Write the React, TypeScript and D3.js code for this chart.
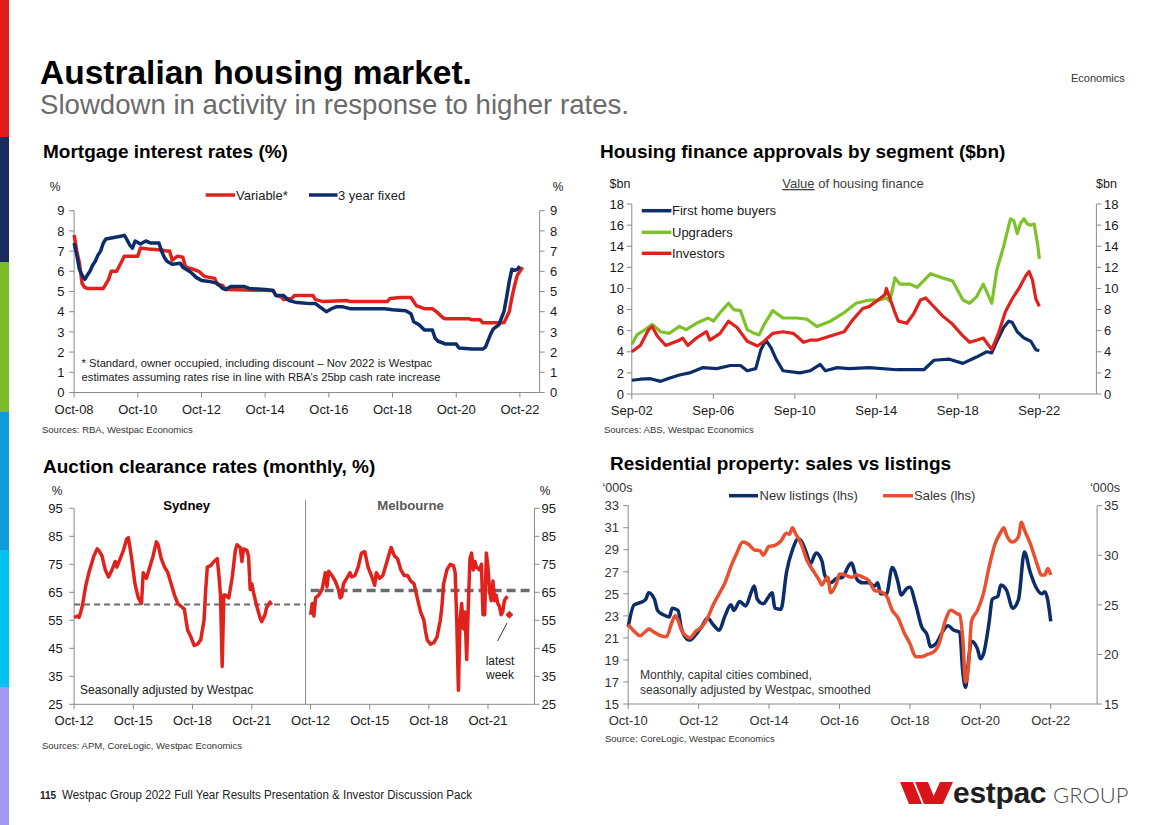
import React from "react";
import * as d3 from "d3";

type Pt = [string, number];

const FONT = "'Liberation Sans', Arial, Helvetica, sans-serif";
const AXIS = "#8a8a8a";
const INK = "#1a1a1a";
const RED = "#E1221C";
const NAVY = "#0B2D69";
const GREEN = "#7DC22B";
const ORANGE = "#E9502E";

const MONTHS = ["Jan", "Feb", "Mar", "Apr", "May", "Jun", "Jul", "Aug", "Sep", "Oct", "Nov", "Dec"];
const ym = (s: string) => {
  const [y, m] = s.split("-").map(Number);
  return new Date(y, m - 1, 1);
};
const tickDate = (s: string) => {
  const [mon, yy] = s.split("-");
  return new Date(2000 + Number(yy), MONTHS.indexOf(mon), 1);
};

// ---------- Chart 1: mortgage interest rates ----------
const mortgageXTicks = ["Oct-08", "Oct-10", "Oct-12", "Oct-14", "Oct-16", "Oct-18", "Oct-20", "Oct-22"];
const mortgageYTicks = [0, 1, 2, 3, 4, 5, 6, 7, 8, 9];
const variableRate: Pt[] = [
  ["2008-10", 7.8], ["2008-11", 7.0], ["2008-12", 6.4], ["2009-01", 5.4], ["2009-02", 5.2], ["2009-03", 5.15],
  ["2009-09", 5.15], ["2009-11", 5.6], ["2009-12", 6.0], ["2010-02", 6.0], ["2010-04", 6.5], ["2010-05", 6.75],
  ["2010-10", 6.75], ["2010-11", 7.15], ["2011-02", 7.1], ["2011-07", 7.05], ["2011-09", 7.0], ["2011-10", 7.0],
  ["2011-11", 6.55], ["2012-01", 6.75], ["2012-03", 6.7], ["2012-04", 6.2], ["2012-07", 6.1], ["2012-09", 6.0],
  ["2012-11", 5.75], ["2013-01", 5.7], ["2013-03", 5.65], ["2013-04", 5.35], ["2013-06", 5.3], ["2013-07", 5.1],
  ["2015-01", 5.05], ["2015-02", 4.8], ["2015-04", 4.75], ["2015-05", 4.6], ["2015-08", 4.65], ["2015-09", 4.8],
  ["2016-04", 4.8], ["2016-05", 4.6], ["2016-08", 4.5], ["2017-05", 4.55], ["2017-06", 4.5], ["2018-08", 4.5],
  ["2018-09", 4.65], ["2019-01", 4.7], ["2019-05", 4.7], ["2019-07", 4.3], ["2019-10", 4.15], ["2020-01", 4.15],
  ["2020-03", 3.95], ["2020-05", 3.7], ["2020-06", 3.65], ["2021-03", 3.65], ["2021-04", 3.6], ["2021-07", 3.6],
  ["2021-08", 3.45], ["2022-04", 3.45], ["2022-06", 4.0], ["2022-07", 4.7], ["2022-08", 5.3], ["2022-09", 5.8],
  ["2022-10", 6.0], ["2022-11", 6.2],
];
const fixedRate: Pt[] = [
  ["2008-10", 7.4], ["2008-11", 6.8], ["2008-12", 6.1], ["2009-01", 5.8], ["2009-02", 5.6], ["2009-03", 5.8],
  ["2009-04", 6.0], ["2009-05", 6.3], ["2009-06", 6.5], ["2009-07", 6.8], ["2009-08", 7.0], ["2009-09", 7.4],
  ["2009-10", 7.6], ["2009-12", 7.65], ["2010-02", 7.7], ["2010-04", 7.75], ["2010-05", 7.78], ["2010-06", 7.55],
  ["2010-07", 7.3], ["2010-08", 7.15], ["2010-09", 7.5], ["2010-11", 7.35], ["2011-01", 7.5], ["2011-03", 7.4],
  ["2011-06", 7.4], ["2011-07", 7.0], ["2011-08", 6.7], ["2011-09", 6.5], ["2011-11", 6.35], ["2012-02", 6.4],
  ["2012-03", 6.2], ["2012-06", 5.95], ["2012-08", 5.7], ["2012-10", 5.55], ["2013-01", 5.5], ["2013-04", 5.4],
  ["2013-06", 5.15], ["2013-07", 5.1], ["2013-09", 5.25], ["2014-02", 5.25], ["2014-04", 5.15], ["2014-10", 5.1],
  ["2015-01", 5.05], ["2015-02", 4.8], ["2015-05", 4.8], ["2015-07", 4.55], ["2015-10", 4.45], ["2016-03", 4.4],
  ["2016-05", 4.4], ["2016-07", 4.2], ["2016-09", 4.0], ["2016-11", 4.15], ["2017-01", 4.25], ["2017-03", 4.25],
  ["2017-06", 4.15], ["2018-07", 4.15], ["2018-10", 4.1], ["2019-03", 4.05], ["2019-05", 3.9], ["2019-06", 3.5],
  ["2019-08", 3.35], ["2019-10", 3.1], ["2020-01", 3.1], ["2020-02", 2.7], ["2020-03", 2.55], ["2020-05", 2.45],
  ["2020-06", 2.4], ["2020-10", 2.4], ["2020-11", 2.2], ["2021-04", 2.15], ["2021-08", 2.15], ["2021-09", 2.25],
  ["2021-11", 2.9], ["2021-12", 3.15], ["2022-02", 3.35], ["2022-04", 4.0], ["2022-05", 4.7], ["2022-06", 5.5],
  ["2022-07", 6.1], ["2022-08", 6.05], ["2022-09", 6.1], ["2022-10", 6.25],
];

// ---------- Chart 2: housing finance approvals ----------
const financeXTicks = ["Sep-02", "Sep-06", "Sep-10", "Sep-14", "Sep-18", "Sep-22"];
const financeYTicks = [0, 2, 4, 6, 8, 10, 12, 14, 16, 18];
const firstHomeBuyers: Pt[] = [
  ["2002-09", 1.3], ["2003-02", 1.4], ["2003-08", 1.45], ["2004-02", 1.2], ["2004-07", 1.5], ["2005-01", 1.8],
  ["2005-07", 2.0], ["2006-03", 2.5], ["2006-11", 2.4], ["2007-07", 2.7], ["2008-01", 2.7], ["2008-05", 2.2],
  ["2008-10", 2.4], ["2009-01", 4.2], ["2009-04", 5.1], ["2009-07", 4.4], ["2009-10", 3.3], ["2010-02", 2.2],
  ["2010-12", 2.0], ["2011-06", 2.2], ["2011-12", 2.8], ["2012-03", 2.2], ["2012-10", 2.5], ["2013-05", 2.4],
  ["2014-05", 2.5], ["2015-09", 2.3], ["2017-01", 2.3], ["2017-07", 3.2], ["2018-04", 3.3], ["2018-12", 2.9],
  ["2019-08", 3.5], ["2020-02", 4.0], ["2020-05", 3.9], ["2020-08", 5.0], ["2020-12", 6.3], ["2021-03", 6.9],
  ["2021-05", 6.8], ["2021-08", 5.9], ["2021-12", 5.3], ["2022-04", 5.0], ["2022-07", 4.2], ["2022-09", 4.1],
];
const upgraders: Pt[] = [
  ["2002-09", 4.7], ["2002-12", 5.6], ["2003-04", 6.0], ["2003-09", 6.6], ["2004-02", 5.9], ["2004-07", 5.75],
  ["2005-01", 6.4], ["2005-05", 6.1], ["2005-11", 6.7], ["2006-06", 7.2], ["2006-09", 6.9], ["2007-02", 7.9],
  ["2007-06", 8.6], ["2007-09", 8.0], ["2008-01", 7.9], ["2008-05", 6.1], ["2008-09", 5.75], ["2008-12", 5.6],
  ["2009-03", 6.6], ["2009-08", 7.9], ["2010-02", 7.2], ["2010-10", 7.2], ["2011-04", 7.1], ["2011-10", 6.4],
  ["2012-06", 6.9], ["2013-02", 7.7], ["2013-09", 8.6], ["2014-05", 8.9], ["2014-11", 8.9], ["2015-03", 9.1],
  ["2015-05", 8.8], ["2015-08", 11.0], ["2015-11", 10.4], ["2016-05", 10.4], ["2016-09", 10.1], ["2017-05", 11.4],
  ["2017-12", 11.0], ["2018-06", 10.7], ["2018-12", 8.9], ["2019-04", 8.6], ["2019-08", 9.2], ["2019-12", 10.4],
  ["2020-05", 8.6], ["2020-08", 11.8], ["2020-12", 14.0], ["2021-04", 16.6], ["2021-06", 16.4], ["2021-08", 15.2],
  ["2021-10", 16.2], ["2021-12", 16.6], ["2022-02", 16.1], ["2022-04", 16.0], ["2022-06", 16.1], ["2022-08", 14.2],
  ["2022-09", 12.8],
];
const investors: Pt[] = [
  ["2002-09", 4.0], ["2003-02", 4.6], ["2003-07", 6.1], ["2003-09", 6.4], ["2003-12", 5.5], ["2004-05", 4.6],
  ["2005-01", 5.1], ["2005-03", 5.3], ["2005-06", 4.6], ["2005-11", 5.3], ["2006-05", 5.9], ["2006-07", 5.1],
  ["2007-01", 5.75], ["2007-06", 6.9], ["2007-11", 6.3], ["2008-05", 5.0], ["2008-11", 4.55], ["2009-03", 5.0],
  ["2009-08", 5.75], ["2010-02", 5.9], ["2010-08", 5.75], ["2010-10", 5.5], ["2011-02", 4.9], ["2011-06", 5.1],
  ["2011-10", 5.1], ["2012-06", 5.5], ["2013-02", 5.9], ["2013-07", 7.0], ["2014-01", 8.1], ["2014-05", 8.3],
  ["2014-10", 8.9], ["2015-02", 9.4], ["2015-03", 10.0], ["2015-05", 9.1], ["2015-08", 7.7], ["2015-10", 6.9],
  ["2016-03", 6.7], ["2016-07", 7.6], ["2016-11", 8.9], ["2017-02", 9.1], ["2017-05", 8.6], ["2017-12", 7.4],
  ["2018-06", 6.6], ["2018-12", 5.5], ["2019-04", 4.9], ["2019-08", 5.1], ["2019-12", 5.3], ["2020-05", 4.2],
  ["2020-09", 5.8], ["2021-01", 7.8], ["2021-05", 9.0], ["2021-09", 10.0], ["2022-01", 11.2], ["2022-03", 11.6],
  ["2022-05", 10.8], ["2022-07", 9.0], ["2022-09", 8.3],
];

// ---------- Chart 3: auction clearance rates ----------
const auctionXTicks = ["Oct-12", "Oct-15", "Oct-18", "Oct-21"];
const auctionYTicks = [25, 35, 45, 55, 65, 75, 85, 95];
const sydneyAverage = 60.6;
const melbourneAverage = 65.6;
const sydney: Pt[] = [
  ["2012-10", 56], ["2012-12", 56.5], ["2013-01", 56], ["2013-02", 58], ["2013-03", 60], ["2013-05", 67],
  ["2013-07", 72], ["2013-09", 76], ["2013-10", 78], ["2013-12", 80.5], ["2014-01", 80], ["2014-03", 78],
  ["2014-05", 73], ["2014-07", 70.5], ["2014-09", 73], ["2014-11", 76], ["2014-12", 74], ["2015-02", 77],
  ["2015-04", 80], ["2015-06", 84], ["2015-07", 84.5], ["2015-08", 81], ["2015-09", 77], ["2015-11", 68],
  ["2016-01", 63], ["2016-03", 61], ["2016-04", 72], ["2016-06", 70], ["2016-08", 74], ["2016-10", 78],
  ["2016-12", 83], ["2017-01", 82], ["2017-03", 77], ["2017-05", 74], ["2017-07", 72], ["2017-09", 68],
  ["2017-11", 64], ["2018-01", 61], ["2018-03", 60], ["2018-05", 59], ["2018-07", 51.5], ["2018-09", 49],
  ["2018-11", 46], ["2019-01", 46.5], ["2019-03", 48], ["2019-05", 55], ["2019-06", 66], ["2019-07", 74],
  ["2019-09", 74.5], ["2019-11", 76], ["2020-01", 77], ["2020-02", 71], ["2020-03", 64], ["2020-04", 38.5],
  ["2020-05", 64], ["2020-06", 64], ["2020-08", 63], ["2020-10", 70], ["2020-12", 80], ["2021-01", 82],
  ["2021-03", 81], ["2021-04", 76], ["2021-05", 80.5], ["2021-07", 80], ["2021-08", 78], ["2021-09", 66],
  ["2021-10", 68], ["2021-11", 65], ["2022-01", 60], ["2022-03", 56], ["2022-04", 54.5], ["2022-06", 57],
  ["2022-07", 59.5], ["2022-09", 61.5], ["2022-10", 60.5],
];
const melbourne: Pt[] = [
  ["2012-10", 57], ["2012-11", 61], ["2012-12", 56.5], ["2013-01", 63], ["2013-03", 64], ["2013-05", 66],
  ["2013-07", 72], ["2013-08", 67], ["2013-09", 72.5], ["2013-11", 71], ["2014-01", 69], ["2014-03", 66],
  ["2014-04", 63], ["2014-05", 63.5], ["2014-06", 68], ["2014-08", 70], ["2014-10", 72], ["2014-11", 70.5],
  ["2015-01", 71], ["2015-03", 74], ["2015-05", 79], ["2015-07", 79.5], ["2015-09", 74], ["2015-11", 71],
  ["2016-01", 67.5], ["2016-02", 72], ["2016-04", 70], ["2016-06", 71], ["2016-08", 75], ["2016-10", 79],
  ["2016-11", 81], ["2017-01", 78], ["2017-03", 77], ["2017-05", 73], ["2017-07", 71], ["2017-09", 71],
  ["2017-11", 69], ["2018-01", 68], ["2018-03", 63], ["2018-05", 58], ["2018-07", 55], ["2018-08", 51],
  ["2018-09", 48], ["2018-11", 46.5], ["2019-01", 47], ["2019-03", 49], ["2019-05", 55], ["2019-06", 60],
  ["2019-07", 68], ["2019-09", 73], ["2019-11", 75], ["2020-01", 74.5], ["2020-02", 72], ["2020-03", 55],
  ["2020-04", 30], ["2020-05", 55], ["2020-06", 61], ["2020-07", 52], ["2020-08", 58], ["2020-09", 41],
  ["2020-10", 60], ["2020-11", 77], ["2020-12", 79], ["2021-01", 73], ["2021-02", 76], ["2021-03", 74],
  ["2021-05", 73], ["2021-06", 75], ["2021-07", 57], ["2021-08", 57], ["2021-09", 79], ["2021-10", 74],
  ["2021-11", 65], ["2021-12", 62], ["2022-01", 69], ["2022-02", 62], ["2022-03", 64], ["2022-04", 61],
  ["2022-05", 60], ["2022-06", 57], ["2022-07", 58], ["2022-08", 62], ["2022-09", 63], ["2022-10", 63.5],
];
const melbourneLatestWeek: Pt = ["2022-11", 57];

// ---------- Chart 4: sales vs listings ----------
const salesXTicks = ["Oct-10", "Oct-12", "Oct-14", "Oct-16", "Oct-18", "Oct-20", "Oct-22"];
const salesYTicksLeft = [15, 17, 19, 21, 23, 25, 27, 29, 31, 33];
const salesYTicksRight = [15, 20, 25, 30, 35];
const newListings: Pt[] = [
  ["2010-10", 22], ["2010-12", 24], ["2011-02", 24.2], ["2011-04", 24.5], ["2011-05", 25.1], ["2011-07", 24.5],
  ["2011-08", 23.5], ["2011-10", 23.1], ["2011-12", 22.9], ["2012-01", 23.7], ["2012-03", 23.5], ["2012-04", 22],
  ["2012-06", 20.9], ["2012-07", 20.8], ["2012-09", 21.3], ["2012-11", 22], ["2013-01", 22.8], ["2013-03", 22.2],
  ["2013-05", 21.7], ["2013-07", 23], ["2013-09", 24], ["2013-10", 23.5], ["2013-12", 24.3], ["2014-02", 23.9],
  ["2014-04", 25.2], ["2014-05", 25.7], ["2014-06", 24.5], ["2014-08", 24.1], ["2014-10", 24.8], ["2014-11", 25.1],
  ["2014-12", 23.7], ["2015-02", 23.6], ["2015-04", 27], ["2015-06", 29], ["2015-08", 30], ["2015-09", 29.8],
  ["2015-11", 28.5], ["2015-12", 27.7], ["2016-02", 28.7], ["2016-04", 28], ["2016-05", 26.7], ["2016-07", 26],
  ["2016-09", 26.4], ["2016-11", 26.5], ["2017-01", 27.5], ["2017-02", 27.8], ["2017-04", 26.3], ["2017-06", 26],
  ["2017-08", 26], ["2017-10", 25.7], ["2017-11", 26], ["2017-12", 25], ["2018-02", 25], ["2018-04", 27.4],
  ["2018-06", 26], ["2018-07", 24.9], ["2018-09", 25.5], ["2018-10", 25.6], ["2018-12", 24], ["2019-02", 22],
  ["2019-04", 21.2], ["2019-05", 20.2], ["2019-07", 20.5], ["2019-09", 21.5], ["2019-11", 22.1], ["2020-01", 21.7],
  ["2020-03", 21.5], ["2020-04", 18], ["2020-05", 16.5], ["2020-06", 19], ["2020-07", 20.7], ["2020-09", 20],
  ["2020-10", 19.1], ["2020-11", 19.5], ["2021-01", 22.5], ["2021-02", 24.5], ["2021-04", 24.8], ["2021-05", 25.8],
  ["2021-07", 25.3], ["2021-09", 23.7], ["2021-11", 24.5], ["2022-01", 28.8], ["2022-03", 27], ["2022-05", 25.6],
  ["2022-07", 25], ["2022-08", 25.2], ["2022-09", 24.4], ["2022-10", 22.5],
];
const sales: Pt[] = [
  ["2010-10", 22.2], ["2010-12", 21.6], ["2011-02", 21.2], ["2011-04", 21.6], ["2011-05", 21.8], ["2011-07", 21.5],
  ["2011-09", 21.2], ["2011-11", 21.1], ["2012-01", 22.5], ["2012-02", 23], ["2012-03", 22.6], ["2012-04", 21.8],
  ["2012-06", 21.1], ["2012-07", 21.0], ["2012-09", 21.6], ["2012-11", 22], ["2013-01", 22.8], ["2013-03", 24],
  ["2013-05", 25], ["2013-07", 26], ["2013-09", 27.5], ["2013-11", 28.7], ["2014-01", 29.7], ["2014-03", 29.5],
  ["2014-05", 29], ["2014-07", 28.9], ["2014-08", 28.5], ["2014-10", 29.3], ["2014-12", 29.4], ["2015-02", 29.8],
  ["2015-04", 30.5], ["2015-05", 30.4], ["2015-06", 31], ["2015-07", 30.5], ["2015-09", 29.5], ["2015-11", 28],
  ["2016-01", 27.1], ["2016-03", 26.3], ["2016-04", 25.8], ["2016-05", 26.2], ["2016-06", 26.5], ["2016-07", 25.1],
  ["2016-09", 26], ["2016-10", 26.8], ["2016-12", 26.7], ["2017-02", 26.5], ["2017-04", 26.7], ["2017-06", 26.5],
  ["2017-08", 26.2], ["2017-10", 25.3], ["2017-12", 25.2], ["2018-02", 24.8], ["2018-04", 23.5], ["2018-06", 22.8],
  ["2018-08", 21.5], ["2018-10", 20.5], ["2018-12", 19.3], ["2019-02", 19.3], ["2019-04", 19.5], ["2019-06", 19.7],
  ["2019-08", 20.5], ["2019-10", 22.5], ["2019-12", 23.5], ["2020-02", 23.2], ["2020-03", 23.1], ["2020-04", 21],
  ["2020-05", 17], ["2020-06", 18.5], ["2020-07", 22.5], ["2020-09", 23.5], ["2020-11", 25], ["2021-01", 27.5],
  ["2021-03", 29.5], ["2021-05", 30.6], ["2021-06", 31], ["2021-07", 30.3], ["2021-09", 29.7], ["2021-11", 30.2],
  ["2021-12", 31.5], ["2022-01", 30.8], ["2022-03", 29.6], ["2022-05", 28], ["2022-07", 26.7], ["2022-08", 26.7],
  ["2022-09", 27.3], ["2022-10", 26.7],
];

// ---------- side band colours ----------
const bandColors = ["#E31B1B", "#172B5E", "#79BD28", "#0F9BD7", "#00C2F1", "#A397F6"];
const bandEdges = [0, 137, 262, 412, 550, 687, 825];

type Scale = (v: any) => number;

function linePath(data: Pt[], x: Scale, y: Scale, curve: any = d3.curveLinear) {
  return (
    d3
      .line<Pt>()
      .x((d) => x(ym(d[0])))
      .y((d) => y(d[1]))
      .curve(curve)(data) || ""
  );
}

function YAxis(props: {
  scale: d3.ScaleLinear<number, number>;
  ticks: number[];
  x: number;
  side: "left" | "right";
  gap: number;
  color?: string;
}) {
  const { scale, ticks, x, side, gap } = props;
  const dir = side === "left" ? -1 : 1;
  const [r0, r1] = scale.range();
  return (
    <g>
      <line x1={x} x2={x} y1={r0} y2={r1} stroke={AXIS} strokeWidth={1} />
      {ticks.map((t) => (
        <g key={t}>
          <line x1={x} x2={x + dir * 5} y1={scale(t)} y2={scale(t)} stroke={AXIS} strokeWidth={1} />
          <text
            x={x + dir * gap}
            y={scale(t) + 4.7}
            textAnchor={side === "left" ? "end" : "start"}
            fontSize={13}
            fill={props.color || INK}
          >
            {t}
          </text>
        </g>
      ))}
    </g>
  );
}

function XAxis(props: {
  scale: d3.ScaleTime<number, number>;
  labels: string[];
  y: number;
  labelY: number;
  line?: boolean;
  color?: string;
}) {
  const { scale, labels, y, labelY } = props;
  const [r0, r1] = scale.range();
  return (
    <g>
      {props.line !== false && <line x1={r0} x2={r1} y1={y} y2={y} stroke={AXIS} strokeWidth={1} />}
      {labels.map((l) => {
        const px = scale(tickDate(l));
        return (
          <g key={l}>
            <line x1={px} x2={px} y1={y} y2={y + 5} stroke={AXIS} strokeWidth={1} />
            <text x={px} y={labelY} textAnchor="middle" fontSize={13} fill={props.color || INK}>
              {l}
            </text>
          </g>
        );
      })}
    </g>
  );
}

function MortgageChart() {
  const x = d3.scaleTime().domain([ym("2008-10"), new Date(2023, 4, 15)]).range([74.1, 539.6]);
  const y = d3.scaleLinear().domain([0, 9]).range([392.5, 210.7]);
  return (
    <g>
      <text x={43} y={158} fontSize={19} fontWeight="bold" fill="#000">Mortgage interest rates (%)</text>
      <text x={55} y={191} fontSize={12} textAnchor="middle" fill={INK}>%</text>
      <text x={558} y={191} fontSize={12} textAnchor="middle" fill={INK}>%</text>
      <line x1={205.6} x2={235} y1={195} y2={195} stroke={RED} strokeWidth={3.5} />
      <text x={236} y={199.6} fontSize={13} fill={INK}>Variable*</text>
      <line x1={309} x2={337.5} y1={195} y2={195} stroke={NAVY} strokeWidth={3.5} />
      <text x={338} y={199.6} fontSize={13} fill={INK}>3 year fixed</text>
      <YAxis scale={y} ticks={mortgageYTicks} x={74.1} side="left" gap={9.7} />
      <YAxis scale={y} ticks={mortgageYTicks} x={539.6} side="right" gap={10.4} />
      <XAxis scale={x} labels={mortgageXTicks} y={392.5} labelY={414} />
      <text x={81.6} y={366.7} fontSize={11.2} fill={INK}>
        * Standard, owner occupied, including discount – Nov 2022 is Westpac
      </text>
      <text x={81.6} y={380.7} fontSize={11.2} fill={INK}>
        estimates assuming rates rise in line with RBA’s 25bp cash rate increase
      </text>
      <path d={linePath(variableRate, x, y)} fill="none" stroke={RED} strokeWidth={3.5} strokeLinejoin="round" />
      <path d={linePath(fixedRate, x, y)} fill="none" stroke={NAVY} strokeWidth={3.5} strokeLinejoin="round" />
      <text x={42} y={433} fontSize={9.5} fill="#333">Sources: RBA, Westpac Economics</text>
    </g>
  );
}

function FinanceChart() {
  const x = d3.scaleTime().domain([ym("2002-09"), new Date(2025, 5, 20)]).range([631.8, 1096.4]);
  const y = d3.scaleLinear().domain([0, 18]).range([394, 204]);
  const legend: [string, string][] = [
    ["First home buyers", NAVY],
    ["Upgraders", GREEN],
    ["Investors", RED],
  ];
  const legendY = [210.7, 232.3, 253.3];
  return (
    <g>
      <text x={600} y={158} fontSize={19} fontWeight="bold" fill="#000">Housing finance approvals by segment ($bn)</text>
      <text x={609.6} y={188} fontSize={12.5} fill={INK}>$bn</text>
      <text x={1096} y={188} fontSize={12.5} fill={INK}>$bn</text>
      <text x={853} y={188} fontSize={13} textAnchor="middle" fill="#404040">
        <tspan textDecoration="underline">Value</tspan> of housing finance
      </text>
      <YAxis scale={y} ticks={financeYTicks} x={631.8} side="left" gap={7.8} />
      <YAxis scale={y} ticks={financeYTicks} x={1096.4} side="right" gap={7.6} />
      <XAxis scale={x} labels={financeXTicks} y={394} labelY={415} />
      <path d={linePath(firstHomeBuyers, x, y)} fill="none" stroke={NAVY} strokeWidth={3.2} strokeLinejoin="round" />
      <path d={linePath(upgraders, x, y)} fill="none" stroke={GREEN} strokeWidth={3.2} strokeLinejoin="round" />
      <path d={linePath(investors, x, y)} fill="none" stroke={RED} strokeWidth={3.2} strokeLinejoin="round" />
      {legend.map(([name, color], i) => (
        <g key={name}>
          <line x1={641.8} x2={671.4} y1={legendY[i]} y2={legendY[i]} stroke={color} strokeWidth={3.5} />
          <text x={672} y={legendY[i] + 4.6} fontSize={13} fill={INK}>{name}</text>
        </g>
      ))}
      <text x={604} y={433} fontSize={9.5} fill="#333">Sources: ABS, Westpac Economics</text>
    </g>
  );
}

function AuctionChart() {
  const xS = d3.scaleTime().domain([ym("2012-10"), new Date(2024, 5, 20)]).range([74.1, 305.5]);
  const xM = d3.scaleTime().domain([ym("2012-10"), new Date(2024, 1, 10)]).range([310.6, 534.5]);
  const y = d3.scaleLinear().domain([25, 95]).range([704.3, 508.3]);
  const lx = xM(ym(melbourneLatestWeek[0]));
  const ly = y(melbourneLatestWeek[1]);
  return (
    <g>
      <text x={43} y={473} fontSize={19} fontWeight="bold" fill="#000">Auction clearance rates (monthly, %)</text>
      <text x={57} y={494.5} fontSize={12} textAnchor="middle" fill={INK}>%</text>
      <text x={545} y={494.5} fontSize={12} textAnchor="middle" fill={INK}>%</text>
      <text x={186.7} y={510} fontSize={13.2} fontWeight="bold" textAnchor="middle" fill="#000">Sydney</text>
      <text x={410.5} y={510} fontSize={13.2} fontWeight="bold" textAnchor="middle" fill="#595959">Melbourne</text>
      <line x1={305.5} x2={305.5} y1={500} y2={704.3} stroke={AXIS} strokeWidth={1} />
      <YAxis scale={y} ticks={auctionYTicks} x={74.1} side="left" gap={11.4} />
      <YAxis scale={y} ticks={auctionYTicks} x={534.5} side="right" gap={7} />
      <line x1={74.1} x2={534.5} y1={704.3} y2={704.3} stroke={AXIS} strokeWidth={1} />
      <XAxis scale={xS} labels={auctionXTicks} y={704.3} labelY={725} line={false} />
      <XAxis scale={xM} labels={auctionXTicks} y={704.3} labelY={725} line={false} />
      <line
        x1={xS.range()[0]}
        x2={xS.range()[1]}
        y1={y(sydneyAverage)}
        y2={y(sydneyAverage)}
        stroke="#6b6b6b"
        strokeWidth={2}
        strokeDasharray="6 4"
      />
      <line
        x1={xM.range()[0]}
        x2={xM.range()[1]}
        y1={y(melbourneAverage)}
        y2={y(melbourneAverage)}
        stroke="#6b6b6b"
        strokeWidth={3.5}
        strokeDasharray="9 5"
      />
      <path d={linePath(sydney, xS, y)} fill="none" stroke={RED} strokeWidth={3.5} strokeLinejoin="round" />
      <path d={linePath(melbourne, xM, y)} fill="none" stroke={RED} strokeWidth={3.5} strokeLinejoin="round" />
      <path d={`M${lx},${ly - 4} L${lx + 4},${ly} L${lx},${ly + 4} L${lx - 4},${ly} Z`} fill={RED} />
      <line x1={507} y1={623} x2={497.6} y2={641} stroke="#333" strokeWidth={1} />
      <text x={500} y={664.5} fontSize={12} textAnchor="middle" fill={INK}>latest</text>
      <text x={500} y={679} fontSize={12} textAnchor="middle" fill={INK}>week</text>
      <text x={80} y={694} fontSize={12} fill={INK}>Seasonally adjusted by Westpac</text>
      <text x={42} y={749} fontSize={9.5} fill="#333">Sources: APM, CoreLogic, Westpac Economics</text>
    </g>
  );
}

function SalesChart() {
  const x = d3.scaleTime().domain([ym("2010-10"), new Date(2024, 0, 25)]).range([628.2, 1097.1]);
  const y = d3.scaleLinear().domain([15, 33]).range([704, 505.7]);
  const yR = d3.scaleLinear().domain([15, 35]).range([704, 505.7]);
  return (
    <g>
      <text x={610} y={470} fontSize={19} fontWeight="bold" fill="#000">Residential property: sales vs listings</text>
      <text x={602.5} y={492} fontSize={12.5} fill="#333">‘000s</text>
      <text x={1090} y={492} fontSize={12.5} fill="#333">‘000s</text>
      <line x1={729} x2={758} y1={495.7} y2={495.7} stroke={NAVY} strokeWidth={3.5} />
      <text x={759.6} y={500.3} fontSize={13} fill="#333">New listings (lhs)</text>
      <line x1={883} x2={913} y1={495.7} y2={495.7} stroke={ORANGE} strokeWidth={3.5} />
      <text x={914} y={500.3} fontSize={13} fill="#333">Sales (lhs)</text>
      <YAxis scale={y} ticks={salesYTicksLeft} x={628.2} side="left" gap={9.2} color="#333" />
      <YAxis scale={yR} ticks={salesYTicksRight} x={1097.1} side="right" gap={7} color="#333" />
      <XAxis scale={x} labels={salesXTicks} y={704} labelY={725} color="#333" />
      <path d={linePath(newListings, x, y, d3.curveMonotoneX)} fill="none" stroke={NAVY} strokeWidth={3.5} strokeLinejoin="round" />
      <path d={linePath(sales, x, y, d3.curveMonotoneX)} fill="none" stroke={ORANGE} strokeWidth={3.5} strokeLinejoin="round" />
      <text x={640} y={679} fontSize={12} fill="#333">Monthly, capital cities combined,</text>
      <text x={640} y={694} fontSize={12} fill="#333">seasonally adjusted by Westpac, smoothed</text>
      <text x={605} y={742} fontSize={9.5} fill="#333">Source: CoreLogic, Westpac Economics</text>
    </g>
  );
}

function Logo() {
  const red = "#D9151B";
  return (
    <g>
      <polygon points="900,782 913,782 922,804 909,804" fill={red} />
      <polygon points="915,782 928,782 937,804 924,804" fill={red} />
      <polygon points="930,804 943,804 953,782 940,782" fill={red} />
      <text x={953} y={803} fontSize={30} fontWeight="bold" fill="#1f1f1f" letterSpacing={-0.3}>estpac</text>
      <text x={1053} y={803} fontSize={22} fontFamily="Lato, 'Open Sans', sans-serif" fontWeight={300} fill="#4a4a4a">
        GROUP
      </text>
    </g>
  );
}

export default function App() {
  return (
    <svg
      width={1168}
      height={825}
      viewBox="0 0 1168 825"
      style={{ position: "absolute", left: 0, top: 0, background: "#fff" }}
      fontFamily={FONT}
    >
      <rect x={0} y={0} width={1168} height={825} fill="#fff" />
      {bandColors.map((c, i) => (
        <rect key={c} x={0} y={bandEdges[i]} width={9} height={bandEdges[i + 1] - bandEdges[i]} fill={c} />
      ))}
      <text x={40} y={84} fontSize={33.5} fontWeight="bold" fill="#000">Australian housing market.</text>
      <text x={40} y={114} fontSize={27.6} fill="#6b6b6b">Slowdown in activity in response to higher rates.</text>
      <text x={1071} y={82} fontSize={11} fill="#333">Economics</text>
      <MortgageChart />
      <FinanceChart />
      <AuctionChart />
      <SalesChart />
      <text x={40} y={799} fontSize={10} fontWeight="bold" fill="#222">115</text>
      <text
        x={62}
        y={799}
        fontSize={12}
        fill="#222"
        fontFamily="'Liberation Sans Narrow', 'Arial Narrow', 'Liberation Sans', sans-serif"
        textLength={410}
        lengthAdjust="spacingAndGlyphs"
      >
        Westpac Group 2022 Full Year Results Presentation &amp; Investor Discussion Pack
      </text>
      <Logo />
    </svg>
  );
}
